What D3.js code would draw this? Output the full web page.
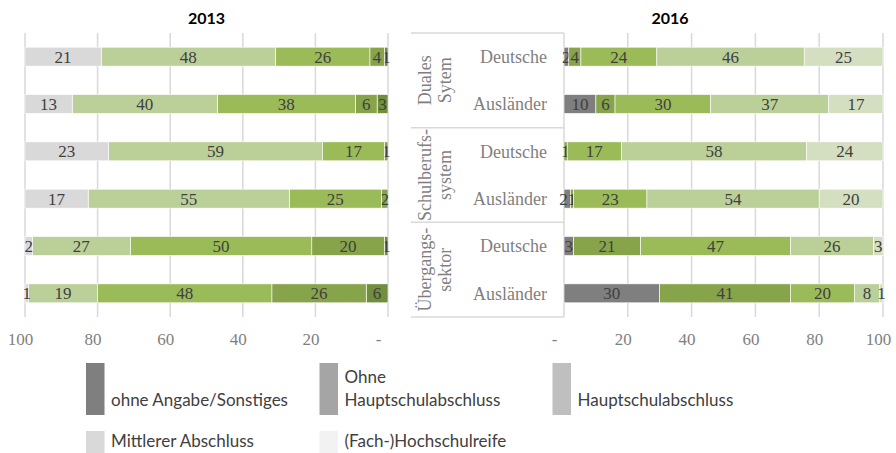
<!DOCTYPE html>
<html>
<head>
<meta charset="utf-8">
<script src="https://cdn.jsdelivr.net/npm/d3@7"></script>
<style>
	body { margin: 0; background: #fff; }
	svg { display: block; }
</style>
</head>
<body>
<svg id="visSVG" width="896" height="453"></svg>
<script>

// ---- data -------------------------------------------------------
var SERIES = ["ohne Angabe/Sonstiges", "Ohne Hauptschulabschluss", "Hauptschulabschluss", "Mittlerer Abschluss", "(Fach-)Hochschulreife"];
var LEGEND_LINES = [["ohne Angabe/Sonstiges"], ["Ohne", "Hauptschulabschluss"], ["Hauptschulabschluss"], ["Mittlerer Abschluss"], ["(Fach-)Hochschulreife"]];
var GROUPS = [["Duales", "Sytem"], ["Schulberufs-", "system"], ["Übergangs-", "sektor"]];
var ROWS = ["Deutsche", "Ausländer", "Deutsche", "Ausländer", "Deutsche", "Ausländer"];
var TICKS = [0, 20, 40, 60, 80, 100];

// each row: values in SERIES order, stacked from 0 outwards
var VALUES_2013 = [
	[1, 4, 26, 48, 21],
	[3, 6, 38, 40, 13],
	[0, 1, 17, 59, 23],
	[0, 1.8, 25.4, 55.4, 17.4],
	[1, 20, 50, 27, 2],
	[6, 26, 48, 19, 1]
];
var VALUES_2016 = [
	[1.5, 3.8, 23.8, 46.2, 24.7],
	[10, 6, 30, 37, 17],
	[0, 1, 17, 58, 24],
	[2, 1, 23, 54, 20],
	[3, 21, 47, 26, 3],
	[30, 41, 20, 8, 1]
];

var COLORS_2013 = ["#718e3d", "#87a44b", "#9bbb59", "#bbd098", "#d9d9d9"];
var COLORS_2016 = ["#7f7f7f", "#87a44b", "#9bbb59", "#bbd098", "#d4dfc1"];
var LEGEND_COLORS = ["#7f7f7f", "#a5a5a5", "#bfbfbf", "#d9d9d9", "#f2f2f2"];

// ---- layout -----------------------------------------------------
var PLOT_TOP = 33, PLOT_BOTTOM = 317;
var LEFT_X0 = 25, LEFT_X1 = 388;
var RIGHT_X0 = 564, RIGHT_X1 = 883;
var BOX_LEFT = 411;
var ROWLABEL_X = 547;
var GRID_COLOR = "#d9d9d9";
var DIGIT_W = 8.5;
var SERIF = "'Liberation Serif', 'Times New Roman', serif";
var SANS = "Lato, 'Liberation Sans', sans-serif";

var svg = d3.select("#visSVG");

var y = d3.scaleBand()
	.domain(d3.range(ROWS.length))
	.range([PLOT_TOP, PLOT_BOTTOM])
	.paddingInner(0.6)
	.paddingOuter(0.3);

// 2013 runs right to left, 2016 left to right
var xLeft = d3.scaleLinear().domain([100, 0]).range([LEFT_X0, LEFT_X1]);
var xRight = d3.scaleLinear().domain([0, 100]).range([RIGHT_X0, RIGHT_X1]);

function stackRow(values, x)
{
	var segs = [], c = 0;
	values.forEach(function(v, i) {
		segs.push({ i: i, v: v, a: c, b: c + v, label: String(Math.round(v)) });
		c += v;
	});
	segs = segs.filter(function(s) { return s.v > 0; });

	// label centres, nudged back toward 0 when two tiny ones collide
	var dir = x(1) > x(0) ? 1 : -1;
	segs.forEach(function(s) { s.lx = (x(s.a) + x(s.b)) / 2; });
	for (var k = 1; k < segs.length; k++)
	{
		var need = (segs[k].label.length + segs[k-1].label.length) * DIGIT_W / 2;
		if ((segs[k].lx - segs[k-1].lx) * dir < need)
			segs[k-1].lx = segs[k].lx - need * dir;
	}
	return segs;
}

function drawPanel(x, values, colors, title, titleX)
{
	var g = svg.append("g");

	// grid lines
	g.selectAll("line.grid")
		.data(TICKS)
		.enter().append("line")
		.attr("class", "grid")
		.attr("x1", function(d) { return x(d); })
		.attr("x2", function(d) { return x(d); })
		.attr("y1", PLOT_TOP).attr("y2", PLOT_BOTTOM)
		.attr("stroke", GRID_COLOR)
		.attr("stroke-width", 1.5);

	// tick labels
	var axis = d3.axisBottom(x)
		.tickValues(TICKS)
		.tickSize(0)
		.tickPadding(16)
		.tickFormat(function(d) { return d === 0 ? "-" : d; });

	var ag = g.append("g")
		.attr("transform", "translate(0," + PLOT_BOTTOM + ")")
		.call(axis)
		.attr("font-family", null)
		.attr("font-size", null);
	ag.select(".domain").remove();
	ag.selectAll("text")
		.style("font-family", SERIF)
		.style("font-size", "17px")
		.attr("fill", "#7f7f7f")
		.attr("dx", function(d) { return d === 0 ? -10 : -5; });

	// bars
	var rows = g.selectAll("g.row")
		.data(values)
		.enter().append("g")
		.attr("class", "row")
		.attr("transform", function(d, i) { return "translate(0," + y(i) + ")"; });

	var segs = rows.selectAll("g.seg")
		.data(function(d) { return stackRow(d, x); })
		.enter().append("g")
		.attr("class", "seg");

	segs.append("rect")
		.attr("x", function(s) { return Math.min(x(s.a), x(s.b)); })
		.attr("width", function(s) { return Math.abs(x(s.b) - x(s.a)); })
		.attr("y", 0)
		.attr("height", y.bandwidth())
		.attr("fill", function(s) { return colors[s.i]; })
		.attr("stroke", "#fff")
		.attr("stroke-width", 0.6);

	segs.append("text")
		.style("font-family", SERIF)
		.style("font-size", "17px")
		.attr("x", function(s) { return s.lx; })
		.attr("y", y.bandwidth() / 2)
		.attr("dy", "0.35em")
		.attr("text-anchor", "middle")
		.attr("fill", "#404040")
		.text(function(s) { return s.label; });

	// title
	svg.append("text")
		.style("font-family", SANS)
		.style("font-size", "16px")
		.attr("x", titleX).attr("y", 24)
		.attr("text-anchor", "middle")
		.attr("font-weight", "bold")
		.attr("fill", "#000")
		.text(title);
}

drawPanel(xLeft, VALUES_2013, COLORS_2013, "2013", (LEFT_X0 + LEFT_X1) / 2);
drawPanel(xRight, VALUES_2016, COLORS_2016, "2016", 670);

// ---- category box -----------------------------------------------
var step = y.step();
var rowsPerGroup = ROWS.length / GROUPS.length;
var bounds = d3.range(GROUPS.length + 1).map(function(k) {
	return PLOT_TOP + k * rowsPerGroup * step;
});

var box = svg.append("g");

box.selectAll("line.sep")
	.data(bounds)
	.enter().append("line")
	.attr("x1", BOX_LEFT).attr("x2", RIGHT_X0)
	.attr("y1", function(d) { return d; })
	.attr("y2", function(d) { return d; })
	.attr("stroke", GRID_COLOR)
	.attr("stroke-width", 1.5);

GROUPS.forEach(function(lines, k) {
	var cy = (bounds[k] + bounds[k + 1]) / 2;
	var t = box.append("text")
		.style("font-family", SERIF)
		.style("font-size", "18px")
		.attr("transform", "translate(0," + cy + ") rotate(-90)")
		.attr("text-anchor", "middle")
		.attr("fill", "#7f7f7f");
	lines.forEach(function(s, j) {
		t.append("tspan")
			.attr("x", 0)
			.attr("y", 425 + j * 20)
			.attr("dy", "0.35em")
			.text(s);
	});
});

box.selectAll("text.rowlabel")
	.data(ROWS)
	.enter().append("text")
	.attr("class", "rowlabel")
	.style("font-family", SERIF)
	.style("font-size", "18px")
	.attr("x", ROWLABEL_X)
	.attr("y", function(d, i) { return y(i) + y.bandwidth() / 2; })
	.attr("dy", "0.35em")
	.attr("text-anchor", "end")
	.attr("fill", "#7f7f7f")
	.text(function(d) { return d; });

// ---- legend -----------------------------------------------------
var LEG_X = [86, 319.5, 552.5];
var LEG_Y = [363, 431];
var SWATCH_W = 18.5, SWATCH_H = 52;

var legend = svg.append("g");

SERIES.forEach(function(name, i) {
	var col = i % 3, row = Math.floor(i / 3);
	var item = legend.append("g")
		.attr("transform", "translate(" + LEG_X[col] + "," + LEG_Y[row] + ")");

	item.append("rect")
		.attr("width", SWATCH_W)
		.attr("height", SWATCH_H)
		.attr("fill", LEGEND_COLORS[i]);

	var lines = LEGEND_LINES[i];
	var baseline = row === 0 ? 42.7 : 15.7;
	lines.forEach(function(s, j) {
		item.append("text")
			.style("font-family", SANS)
			.style("font-size", "17px")
			.attr("x", 25)
			.attr("y", baseline - (lines.length - 1 - j) * 22.3)
			.attr("fill", "#404040")
			.text(s);
	});
});

</script>
</body>
</html>
